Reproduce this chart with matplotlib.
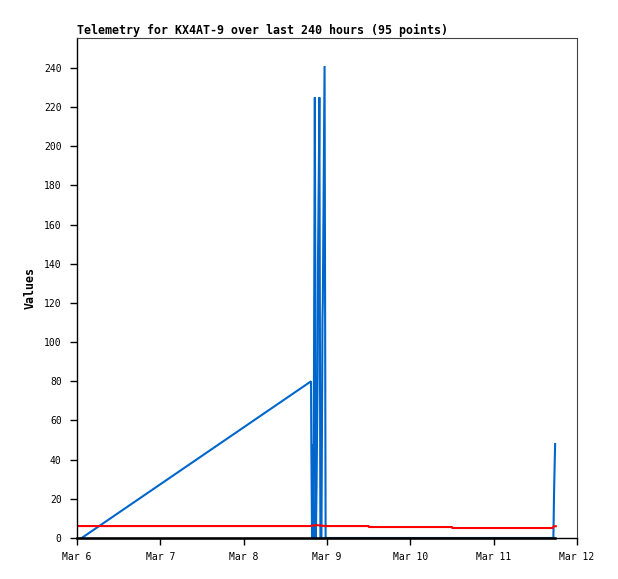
import matplotlib
matplotlib.use("Agg")
import matplotlib.pyplot as plt

# Data (hours since Mar 6 00:00)
blue_hours = [1.35, 67.4, 67.5, 67.7, 67.8, 68.1, 68.3, 68.5, 68.8, 69.0, 69.3, 69.4,
              69.7, 69.8, 70.1, 70.4, 70.7, 70.8, 71.3, 71.6, 137.2, 137.4, 137.7]
blue_values = [0, 80, 45, 0, 48, 0, 112, 225, 0, 28, 84, 140,
               197, 225, 0, 0, 112, 121, 241, 0, 0, 24, 48]

red_hours = [0, 67.0, 69.0, 71.5, 84.0, 84.1, 108.0, 108.1, 137.0, 137.3, 137.9]
red_values = [6.1, 6.1, 6.6, 6.1, 6.1, 5.6, 5.6, 5.1, 5.1, 6.0, 6.0]

black_hours = [0, 137.6]
black_values = [0, 0]

x_tick_hours = [0, 24, 48, 72, 96, 120, 144]
x_tick_labels = ["Mar 6", "Mar 7", "Mar 8", "Mar 9", "Mar 10", "Mar 11", "Mar 12"]
y_ticks = list(range(0, 241, 20))

title = "Telemetry for KX4AT-9 over last 240 hours (95 points)"

plt.rcParams['font.family'] = ['DejaVu Sans Mono']

fig = plt.figure(figsize=(6.18, 5.79), dpi=100)
ax = fig.add_axes([77/618, 41/579, 500/618, 500/579])

ax.plot(blue_hours, blue_values, color='#0066cc', lw=1.5, solid_joinstyle='miter')
ax.plot(red_hours, red_values, color='#ff0000', lw=1.5)
ax.plot(black_hours, black_values, color='black', lw=1.8, clip_on=False)

ax.set_xlim(0, 144)
ax.set_ylim(0, 255.3)
ax.set_xticks(x_tick_hours)
ax.set_xticklabels(x_tick_labels)
ax.set_yticks(y_ticks)
ax.tick_params(axis='both', direction='out', length=5, width=1, labelsize=7, pad=5)
ax.tick_params(axis='y', pad=6)

for s in ['top', 'right']:
    ax.spines[s].set_color('#444444')
    ax.spines[s].set_linewidth(0.8)
for s in ['left', 'bottom']:
    ax.spines[s].set_color('black')
    ax.spines[s].set_linewidth(1.0)

ax.set_title(title, loc='left', fontsize=8.4, fontweight='bold', pad=3)
ax.set_ylabel("Values", fontsize=8.4, fontweight='bold')
ax.yaxis.set_label_coords(-0.08, 0.5)

fig.savefig("out.png", dpi=100)
